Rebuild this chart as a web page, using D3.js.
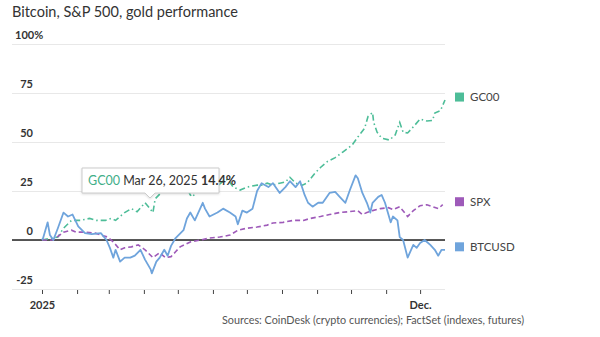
<!DOCTYPE html>
<html>
<head>
<meta charset="utf-8">
<script src="https://cdn.jsdelivr.net/npm/d3@7"></script>
<style>
  body { margin: 0; background: #fff; font-family: Lato, "Open Sans", sans-serif; }
  svg text { font-family: Lato, "Open Sans", sans-serif; }
</style>
</head>
<body>
<div id="holder"></div>
<script>
// series: [date, % change since Jan 1]
const btcData = [
  ["2025-01-01",0],["2025-01-02",1],["2025-01-06",9],["2025-01-08",2.5],["2025-01-11",0],
  ["2025-01-15",6],["2025-01-20",14],["2025-01-24",12],["2025-01-28",13],["2025-02-02",7],
  ["2025-02-08",3.5],["2025-02-14",3],["2025-02-22",3.5],["2025-02-27",0],["2025-03-02",-4],
  ["2025-03-05",-9],["2025-03-07",-5],["2025-03-11",-11],["2025-03-15",-9],["2025-03-20",-9],
  ["2025-03-24",-8],["2025-03-29",-5],["2025-04-02",-10],["2025-04-07",-15],["2025-04-08",-17],
  ["2025-04-12",-11],["2025-04-15",-9],["2025-04-19",-5],["2025-04-22",-8],["2025-04-25",-3],
  ["2025-04-29",1],["2025-05-06",5],["2025-05-09",11],["2025-05-12",14],["2025-05-16",10],
  ["2025-05-23",19],["2025-05-25",16],["2025-05-29",12],["2025-06-05",14],["2025-06-10",16],
  ["2025-06-16",14],["2025-06-21",12],["2025-06-23",8],["2025-06-27",15],["2025-07-01",14],
  ["2025-07-06",16],["2025-07-10",25],["2025-07-14",29],["2025-07-20",27],["2025-07-24",29],
  ["2025-07-30",24],["2025-08-04",27],["2025-08-08",30],["2025-08-13",27],["2025-08-17",30],
  ["2025-08-21",23],["2025-08-24",19],["2025-08-28",17],["2025-09-02",19],["2025-09-06",19],
  ["2025-09-12",24],["2025-09-17",24.5],["2025-09-21",22],["2025-09-26",19],["2025-09-30",25.5],
  ["2025-10-05",33],["2025-10-07",31.5],["2025-10-11",24],["2025-10-15",19],["2025-10-18",14],
  ["2025-10-20",19],["2025-10-25",22],["2025-10-28",23],["2025-10-31",19],["2025-11-05",9],
  ["2025-11-07",12],["2025-11-11",10],["2025-11-13",1.5],["2025-11-16",0],["2025-11-20",-9],
  ["2025-11-25",-2.5],["2025-11-28",-4],["2025-12-01",-1.5],["2025-12-05",0],["2025-12-10",-2.5],
  ["2025-12-14",-5],["2025-12-17",-8],["2025-12-20",-5],["2025-12-23",-5]
];
const goldData = [
  ["2025-01-01",0],["2025-01-15",1.5],["2025-01-20",6],["2025-01-27",10],["2025-02-04",10],
  ["2025-02-12",11],["2025-02-18",10],["2025-02-26",10],["2025-03-03",11],["2025-03-07",10],
  ["2025-03-15",14],["2025-03-21",16],["2025-03-26",14.4],["2025-04-02",19],["2025-04-05",17],
  ["2025-04-09",14],["2025-04-11",21],["2025-04-16",24],["2025-04-20",30],["2025-04-22",33],
  ["2025-04-26",27],["2025-05-01",24],["2025-05-07",29],["2025-05-12",23],["2025-05-14",22],
  ["2025-05-19",26],["2025-05-25",26],["2025-05-31",25],["2025-06-06",28],["2025-06-10",30],
  ["2025-06-14",31],["2025-06-19",27],["2025-06-25",25.5],["2025-07-01",27],["2025-07-10",28],
  ["2025-07-14",28],["2025-07-19",29],["2025-07-24",28],["2025-07-30",29],["2025-08-04",29.6],
  ["2025-08-08",32],["2025-08-13",29],["2025-08-19",28],["2025-08-23",29],["2025-08-30",34],
  ["2025-09-04",37],["2025-09-10",40],["2025-09-17",42],["2025-09-24",45],["2025-10-02",48.5],
  ["2025-10-07",52.5],["2025-10-13",57],["2025-10-16",63],["2025-10-20",65],["2025-10-21",60],
  ["2025-10-24",55],["2025-10-28",52],["2025-11-04",51],["2025-11-09",53.6],["2025-11-13",60],
  ["2025-11-16",55],["2025-11-20",54.6],["2025-11-25",57.7],["2025-12-01",61.7],["2025-12-07",60.7],
  ["2025-12-12",61],["2025-12-14",64.8],["2025-12-19",66],["2025-12-23",71.4]
];
const spxData = [
  ["2025-01-01",0],["2025-01-11",0],["2025-01-20",4],["2025-01-27",5],["2025-01-31",4],
  ["2025-02-08",4],["2025-02-17",3.5],["2025-02-22",2.5],["2025-02-28",1.5],["2025-03-05",-1],
  ["2025-03-11",-5],["2025-03-15",-4],["2025-03-21",-3.5],["2025-03-27",-2.5],["2025-04-02",-5],
  ["2025-04-09",-9],["2025-04-15",-6.5],["2025-04-20",-9],["2025-04-25",-8.5],["2025-04-29",-6],
  ["2025-05-03",-3.5],["2025-05-12",-1],["2025-05-21",0],["2025-05-29",1],["2025-06-07",1.5],
  ["2025-06-16",2.5],["2025-06-23",5],["2025-07-01",6],["2025-07-10",6.6],["2025-07-19",7.6],
  ["2025-07-24",8.7],["2025-08-02",9],["2025-08-11",10],["2025-08-20",10],["2025-08-26",11],
  ["2025-09-04",12],["2025-09-12",13],["2025-09-21",14],["2025-09-30",14.5],["2025-10-07",15],
  ["2025-10-11",13],["2025-10-15",14],["2025-10-20",15],["2025-10-27",16],["2025-11-03",16.5],
  ["2025-11-07",15.5],["2025-11-13",17],["2025-11-20",12],["2025-11-25",15],["2025-12-01",17.5],
  ["2025-12-07",18],["2025-12-12",17],["2025-12-17",16],["2025-12-21",18]
];
const yTicks = [-25, 0, 25, 50, 75, 100];
const seriesNames = ["GC00", "SPX", "BTCUSD"];
const colors = { GC00: "#4dbd98", SPX: "#9e5ab9", BTCUSD: "#6fa4dc" };

const parse = d3.timeParse("%Y-%m-%d");
const w = 600, h = 337;

let svg = d3.select("#holder").append("svg")
  .attr("width", w).attr("height", h);

let xScale = d3.scaleTime()
  .domain([parse("2025-01-01"), parse("2025-12-23")])
  .range([42, 445]);
let yScale = d3.scaleLinear()
  .domain([-25, 100])
  .range([289, 44]);

// Title
svg.append("text")
  .attr("x", 12).attr("y", 17)
  .attr("font-size", 14.5).attr("fill", "#333")
  .text("Bitcoin, S&P 500, gold performance");

// gridlines + labels
const yAxis = d3.axisLeft(yScale).tickValues(yTicks).tickSize(-433)
  .tickFormat(d => d == 100 ? "100%" : d);
let gy = svg.append("g")
  .attr("transform", "translate(12,0)")
  .call(yAxis);
gy.select(".domain").remove();
gy.selectAll(".tick line").attr("stroke", "#e8e8e8").attr("stroke-width", 1.2);
gy.selectAll(".tick text")
  .attr("x", d => d == 100 ? 3 : 21).attr("dy", -6)
  .attr("text-anchor", d => d == 100 ? "start" : "end")
  .attr("font-size", 11).attr("font-weight", "bold").attr("fill", "#333");

// x axis
const xAxis = d3.axisBottom(xScale)
  .ticks(d3.timeMonth.every(1)).tickSize(4)
  .tickFormat(d => d.getMonth() == 0 ? "2025" : d.getMonth() == 11 ? "Dec." : "");
let gx = svg.append("g")
  .attr("transform", "translate(0,290)")
  .call(xAxis);
gx.select(".domain").remove();
gx.selectAll(".tick line").attr("stroke", "#444");
gx.selectAll(".tick text").attr("font-size", 11).attr("font-weight", "bold")
  .attr("fill", "#333").attr("dy", "1.1em");

// zero line
svg.append("line")
  .attr("x1", 12).attr("x2", 445)
  .attr("y1", yScale(0)).attr("y2", yScale(0))
  .attr("stroke", "#222").attr("stroke-width", 1.4);

let valueLine = d3.line()
  .x(d => xScale(parse(d[0])))
  .y(d => yScale(d[1]))
  .curve(d3.curveLinear);

svg.append("path").attr("d", valueLine(goldData))
  .attr("fill", "none").attr("stroke", colors.GC00).attr("stroke-width", 1.6)
  .attr("stroke-dasharray", "6,3,1.5,3");
svg.append("path").attr("d", valueLine(spxData))
  .attr("fill", "none").attr("stroke", colors.SPX).attr("stroke-width", 1.6)
  .attr("stroke-dasharray", "5,3");
svg.append("path").attr("d", valueLine(btcData))
  .attr("fill", "none").attr("stroke", colors.BTCUSD).attr("stroke-width", 1.8)
  .attr("stroke-linejoin", "round");

// legend at line ends
const lastVals = {
  GC00: goldData[goldData.length - 1][1],
  SPX: spxData[spxData.length - 1][1],
  BTCUSD: btcData[btcData.length - 1][1]
};
seriesNames.forEach(name => {
  let y = yScale(lastVals[name]) - 3;
  svg.append("rect").attr("x", 455).attr("y", y - 4.5)
    .attr("width", 9).attr("height", 9).attr("fill", colors[name]);
  svg.append("text").attr("x", 470).attr("y", y + 4)
    .attr("font-size", 11.5).attr("fill", "#444").text(name);
});

// tooltip on gold, Mar 26
let tip = goldData.find(d => d[0] == "2025-03-26");
let tx = 150, ty = 193;
let tg = svg.append("g");
tg.append("path")
  .attr("d", `M82,168 H219 V${ty} H${tx + 5} L${tx},${ty + 5} L${tx - 5},${ty} H82 Z`)
  .attr("fill", "#fff").attr("stroke", "#ccc").attr("stroke-width", 1)
  .style("filter", "drop-shadow(0px 1px 1px rgba(0,0,0,0.12))");
let tt = tg.append("text").attr("x", 88).attr("y", 185).attr("font-size", 12.5).attr("fill", "#333");
tt.append("tspan").attr("fill", "#3fae88").text("GC00");
tt.append("tspan").text(" " + d3.timeFormat("%b %-d, %Y")(parse(tip[0])) + " ");
tt.append("tspan").attr("font-weight", "bold").text(tip[1] + "%");

// source
svg.append("text")
  .attr("x", 222).attr("y", 324)
  .attr("font-size", 10.8).attr("fill", "#555")
  .text("Sources: CoinDesk (crypto currencies); FactSet (indexes, futures)");
</script>
</body>
</html>
